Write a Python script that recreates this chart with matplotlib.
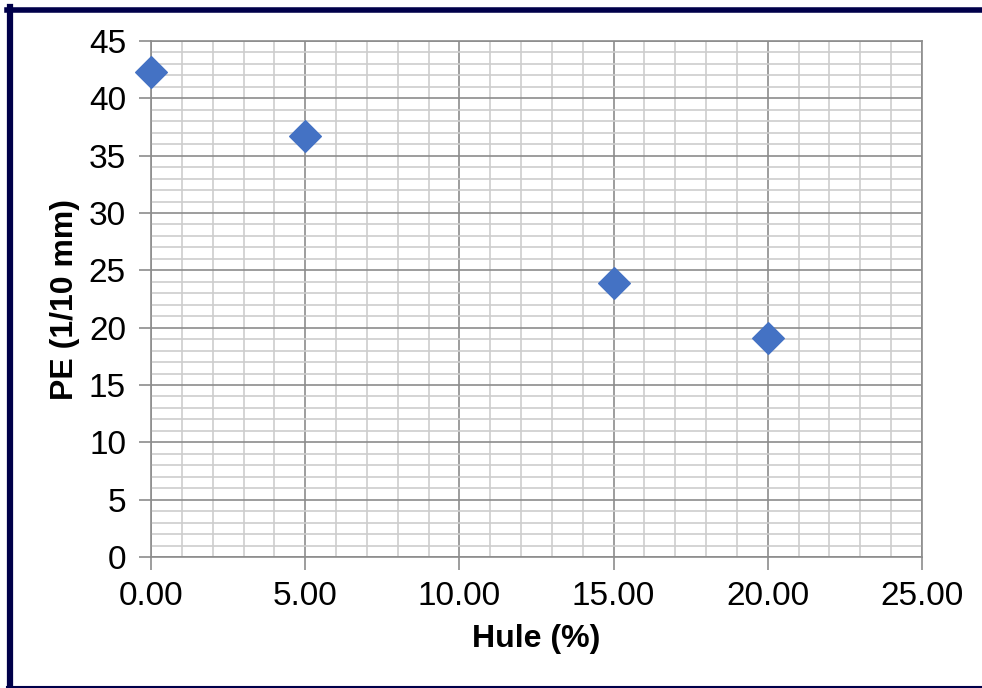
import numpy as np
import matplotlib.pyplot as plt
from matplotlib.lines import Line2D
from matplotlib.ticker import MultipleLocator, FormatStrFormatter

# Data
hule = [0, 5, 15, 20]
pe = [42.3, 36.7, 23.9, 19.1]

plt.rcParams['font.family'] = ['Liberation Sans', 'DejaVu Sans']

fig = plt.figure(figsize=(9.82, 6.88), dpi=100)
ax = fig.add_axes([151 / 982, 1 - 557 / 688, (922 - 151) / 982, (557 - 41) / 688])

ax.scatter(hule, pe, marker='D', s=260, color='#4472C4', zorder=3, clip_on=False)

ax.set_xlim(0, 25)
ax.set_ylim(0, 45)
ax.xaxis.set_major_locator(MultipleLocator(5))
ax.xaxis.set_minor_locator(MultipleLocator(1))
ax.yaxis.set_major_locator(MultipleLocator(5))
ax.yaxis.set_minor_locator(MultipleLocator(1))
ax.xaxis.set_major_formatter(FormatStrFormatter('%.2f'))

ax.grid(which='major', color='#8c8c8c', linewidth=1.2)
ax.grid(which='minor', color='#cdcdcd', linewidth=1.2)
ax.set_axisbelow(True)

for s in ax.spines.values():
    s.set_color('#8c8c8c')
    s.set_linewidth(1.2)

ax.tick_params(which='major', direction='out', length=9, width=1.2, color='#8c8c8c',
               labelsize=24)
ax.tick_params(axis='x', which='major', pad=8)
ax.tick_params(axis='y', which='major', pad=9)
ax.tick_params(which='minor', length=0)

ax.set_xlabel('Hule (%)', fontsize=23, fontweight='bold', labelpad=9)
ax.set_ylabel('PE (1/10 mm)', fontsize=23, fontweight='bold', labelpad=6)

# dark frame around the chart
navy = '#00004a'
fig.add_artist(Line2D([10 / 982, 10 / 982], [0, 1 - 7 / 688], color=navy, linewidth=4.5,
                      transform=fig.transFigure))
fig.add_artist(Line2D([7 / 982, 1], [1 - 9.5 / 688, 1 - 9.5 / 688], color=navy, linewidth=4,
                      transform=fig.transFigure))
fig.add_artist(Line2D([7 / 982, 1], [1 / 688, 1 / 688], color=navy, linewidth=1.5,
                      transform=fig.transFigure))

fig.savefig('out.png', dpi=100)
